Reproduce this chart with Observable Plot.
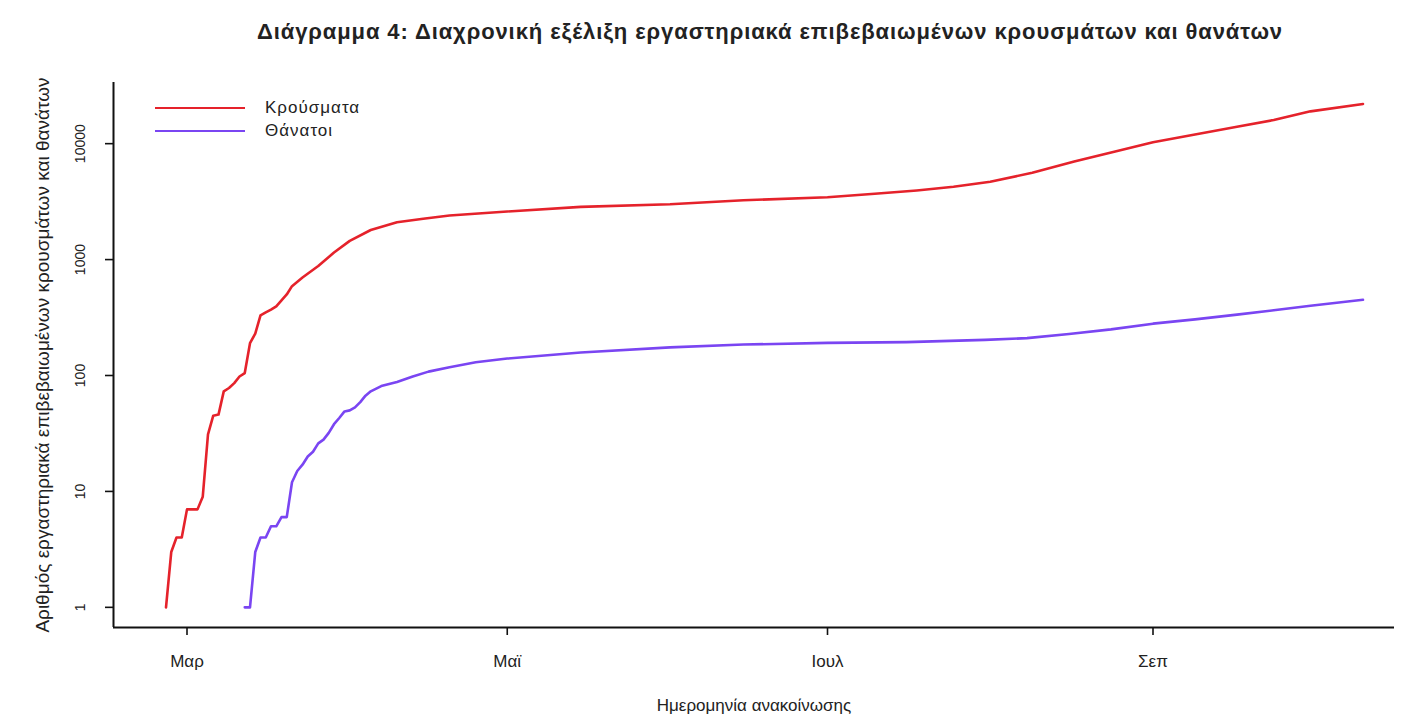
<!DOCTYPE html>
<html>
<head>
<meta charset="utf-8">
<script src="https://cdn.jsdelivr.net/npm/d3@7"></script>
<script src="https://cdn.jsdelivr.net/npm/@observablehq/plot@0.6"></script>
<style>
  body { margin: 0; background: #fff; }
  #wrap { position: relative; width: 1406px; height: 721px; font-family: "Liberation Sans", Arial, sans-serif; color: #222; }
  #title { position: absolute; top: 19px; left: 770px; transform: translateX(-50%); white-space: nowrap; font-weight: bold; font-size: 22px; letter-spacing: 0.9px; }
  #legend { position: absolute; left: 155px; top: 96px; }
  .item { display: flex; align-items: center; height: 23px; }
  .swatch { width: 90px; height: 0; border-top: 2.6px solid; margin-right: 20px; }
  .label { font-size: 17px; letter-spacing: 1px; }
</style>
</head>
<body>
<div id="wrap">
  <div id="title"></div>
  <div id="legend"></div>
</div>
<script>
// ---- data ----
const caseDates = ["2020-02-26","2020-02-27","2020-02-28","2020-02-29","2020-03-01","2020-03-02","2020-03-03","2020-03-04","2020-03-05","2020-03-06","2020-03-07","2020-03-08","2020-03-09","2020-03-10","2020-03-11","2020-03-12","2020-03-13","2020-03-14","2020-03-15","2020-03-16","2020-03-17","2020-03-18","2020-03-19","2020-03-20","2020-03-21","2020-03-23","2020-03-26","2020-03-29","2020-04-01","2020-04-05","2020-04-10","2020-04-15","2020-04-20","2020-05-01","2020-05-15","2020-06-01","2020-06-15","2020-07-01","2020-07-10","2020-07-18","2020-07-25","2020-08-01","2020-08-09","2020-08-17","2020-08-25","2020-09-01","2020-09-09","2020-09-17","2020-09-24","2020-10-01","2020-10-11"];
const caseValues = [1,3,4,4,7,7,7,9,31,45,46,73,78,86,98,105,190,230,330,350,370,395,445,500,590,700,880,1150,1450,1800,2100,2250,2400,2600,2850,3000,3250,3450,3700,3950,4250,4700,5600,7000,8600,10300,12000,14000,16000,19000,22000];

const deathDates = ["2020-03-12","2020-03-13","2020-03-14","2020-03-15","2020-03-16","2020-03-17","2020-03-18","2020-03-19","2020-03-20","2020-03-21","2020-03-22","2020-03-23","2020-03-24","2020-03-25","2020-03-26","2020-03-27","2020-03-28","2020-03-29","2020-03-30","2020-03-31","2020-04-01","2020-04-02","2020-04-03","2020-04-04","2020-04-05","2020-04-07","2020-04-10","2020-04-13","2020-04-16","2020-04-20","2020-04-25","2020-05-01","2020-05-15","2020-06-01","2020-06-15","2020-07-01","2020-07-16","2020-07-31","2020-08-08","2020-08-16","2020-08-24","2020-09-01","2020-09-09","2020-09-17","2020-09-24","2020-10-01","2020-10-11"];
const deathValues = [1,1,3,4,4,5,5,6,6,12,15,17,20,22,26,28,32,38,43,49,50,53,59,67,73,81,88,98,108,118,130,140,158,175,185,191,194,203,210,228,250,280,305,335,365,400,450];

const seriesNames = ["Κρούσματα", "Θάνατοι"];
const seriesColors = ["#e5222b", "#7a45f2"];

const xTickDates = ["2020-03-01","2020-05-01","2020-07-01","2020-09-01"];
const xTickLabels = ["Μαρ", "Μαϊ", "Ιουλ", "Σεπ"];
const yTicks = [1, 10, 100, 1000, 10000];
const yTickLabels = ["1", "10", "100", "1000", "10000"];

const titleText = "Διάγραμμα 4: Διαχρονική εξέλιξη εργαστηριακά επιβεβαιωμένων κρουσμάτων και θανάτων";
const xTitle = "Ημερομηνία ανακοίνωσης";
const yTitle = "Αριθμός εργαστηριακά επιβεβαιωμένων κρουσμάτων και θανάτων";

// ---- build tables ----
const cases = caseDates.map((d, i) => ({date: new Date(d), value: caseValues[i]}));
const deaths = deathDates.map((d, i) => ({date: new Date(d), value: deathValues[i]}));
const xDomain = [new Date("2020-02-16"), new Date("2020-10-17")];
const yDomain = [0.67, 33700];

document.getElementById("title").textContent = titleText;
const legend = document.getElementById("legend");
seriesNames.forEach((n, i) => {
  const it = document.createElement("div"); it.className = "item";
  const sw = document.createElement("div"); sw.className = "swatch"; sw.style.borderTopColor = seriesColors[i];
  const lb = document.createElement("div"); lb.className = "label"; lb.textContent = n;
  it.appendChild(sw); it.appendChild(lb); legend.appendChild(it);
});

const chart = Plot.plot({
  width: 1406,
  height: 721,
  marginLeft: 113,
  marginRight: 12,
  marginTop: 82,
  marginBottom: 94,
  style: {fontFamily: '"Liberation Sans", Arial, sans-serif', fontSize: "15px", color: "#222", background: "transparent"},
  x: {type: "utc", domain: xDomain, label: null},
  y: {type: "log", domain: yDomain, label: null},
  marks: [
    Plot.line(cases, {x: "date", y: "value", stroke: seriesColors[0], strokeWidth: 2.6, strokeLinejoin: "round"}),
    Plot.line(deaths, {x: "date", y: "value", stroke: seriesColors[1], strokeWidth: 2.6, strokeLinejoin: "round"}),
    Plot.ruleX([xDomain[0]], {stroke: "#111", strokeWidth: 2}),
    Plot.ruleY([yDomain[0]], {stroke: "#111", strokeWidth: 2}),
    Plot.axisX(xTickDates.map(d => new Date(d)), {label: null, tickSize: 8, tickPadding: 19, tickFormat: (d, i) => xTickLabels[i], fontSize: 17, letterSpacing: 1, stroke: "#111", strokeWidth: 1.6}),
    Plot.axisY(yTicks, {label: null, tickSize: 8, tickFormat: () => "", stroke: "#111", strokeWidth: 1.6}),
    Plot.text(yTicks, {y: d => d, text: (d, i) => yTickLabels[i], frameAnchor: "left", dx: -33, rotate: -90, textAnchor: "middle", lineAnchor: "middle", fontSize: 14}),
    Plot.text([yTitle], {frameAnchor: "left", dx: -71, rotate: -90, textAnchor: "middle", lineAnchor: "middle", fontSize: 19, letterSpacing: 2.7}),
    Plot.text([xTitle], {frameAnchor: "bottom", dy: 78, textAnchor: "middle", lineAnchor: "middle", fontSize: 17, letterSpacing: 2.5})
  ]
});
chart.style.position = "absolute";
chart.style.left = "0";
chart.style.top = "0";
document.getElementById("wrap").prepend(chart);
</script>
</body>
</html>
